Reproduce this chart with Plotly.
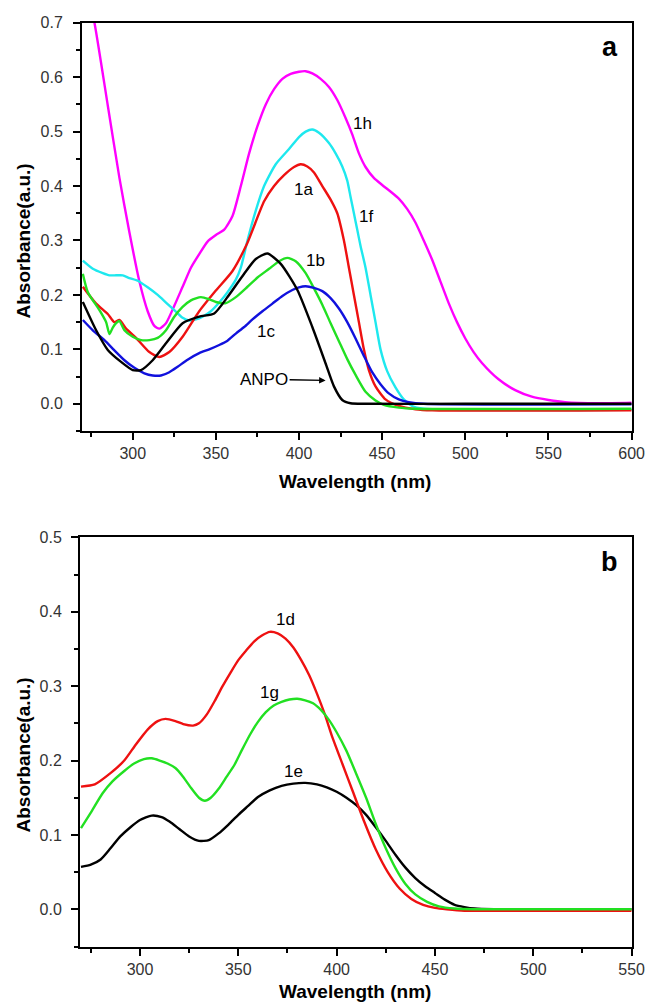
import plotly.graph_objects as go

# ---------------- Panel (a) data ----------------
anpo_x = [270, 278, 285, 293, 300, 305, 312, 320, 330, 340, 349, 357, 367, 374, 381, 389, 399, 408, 416, 421, 426, 431, 440, 500, 600]
anpo_y = [0.187, 0.135, 0.099, 0.077, 0.062, 0.062, 0.080, 0.111, 0.148, 0.160, 0.166, 0.196, 0.239, 0.266, 0.276, 0.257, 0.209, 0.141, 0.074, 0.032, 0.007, 0.001, 0.0, 0.0, 0.0]

a1_x = [270, 278, 285, 289, 292, 296, 302, 310, 316, 322, 330, 340, 350, 360, 369, 379, 385, 391, 397, 401, 405, 409, 414, 419, 423, 427, 430, 433, 436, 439, 442, 446, 452, 460, 470, 480, 600]
a1_y = [0.215, 0.184, 0.165, 0.150, 0.154, 0.138, 0.121, 0.095, 0.086, 0.095, 0.123, 0.170, 0.208, 0.244, 0.296, 0.372, 0.400, 0.420, 0.435, 0.440, 0.436, 0.425, 0.400, 0.375, 0.350, 0.300, 0.250, 0.200, 0.150, 0.100, 0.062, 0.032, 0.008, -0.004, -0.010, -0.012, -0.012]

b1_x = [270, 273, 280, 284, 286, 288, 290, 292, 295, 300, 305, 310, 315, 320, 325, 330, 335, 341, 346, 350, 356, 362, 369, 375, 382, 388, 393, 398, 404, 409, 414, 419, 424, 429, 434, 440, 446, 451, 460, 470, 600]
b1_y = [0.239, 0.205, 0.172, 0.150, 0.128, 0.140, 0.148, 0.152, 0.135, 0.123, 0.117, 0.117, 0.121, 0.135, 0.160, 0.178, 0.190, 0.196, 0.192, 0.187, 0.185, 0.196, 0.215, 0.232, 0.248, 0.262, 0.268, 0.262, 0.240, 0.212, 0.182, 0.148, 0.115, 0.082, 0.053, 0.022, 0.006, -0.002, -0.007, -0.009, -0.009]

c1_x = [270, 276, 283, 289, 295, 301, 307, 312, 317, 322, 327, 333, 340, 346, 352, 357, 362, 367, 372, 378, 384, 390, 396, 400, 404, 409, 414, 419, 424, 429, 434, 439, 444, 449, 454, 460, 466, 475, 600]
c1_y = [0.154, 0.135, 0.117, 0.098, 0.080, 0.066, 0.056, 0.052, 0.052, 0.058, 0.068, 0.081, 0.093, 0.100, 0.108, 0.116, 0.129, 0.141, 0.155, 0.170, 0.184, 0.198, 0.209, 0.214, 0.216, 0.213, 0.207, 0.194, 0.175, 0.150, 0.120, 0.088, 0.058, 0.036, 0.019, 0.008, 0.003, 0.000, -0.001]

f1_x = [270, 276, 282, 286, 290, 294, 298, 303, 309, 315, 320, 325, 330, 334, 338, 342, 347, 352, 357, 362, 365, 369, 374, 379, 386, 394, 400, 404, 408, 412, 418, 422, 426, 429, 431, 433, 435, 437, 440, 443, 446, 449, 453, 458, 463, 468, 475, 490, 600]
f1_y = [0.263, 0.248, 0.240, 0.236, 0.236, 0.236, 0.231, 0.226, 0.214, 0.200, 0.186, 0.172, 0.158, 0.153, 0.155, 0.160, 0.170, 0.186, 0.205, 0.228, 0.250, 0.300, 0.355, 0.400, 0.440, 0.468, 0.490, 0.500, 0.504, 0.498, 0.479, 0.460, 0.436, 0.410, 0.380, 0.350, 0.320, 0.290, 0.250, 0.200, 0.150, 0.100, 0.060, 0.030, 0.008, -0.004, -0.009, -0.011, -0.011]

h1_x = [270, 277, 285, 292, 298, 304, 309, 313, 316, 320, 325, 330, 335, 340, 345, 350, 355, 360, 365, 370, 375, 380, 385, 390, 395, 400, 404, 408, 413, 418, 423, 428, 432, 436, 440, 445, 450, 455, 460, 465, 470, 475, 480, 485, 490, 495, 500, 505, 510, 520, 530, 540, 550, 560, 580, 600]
h1_y = [0.80, 0.70, 0.548, 0.415, 0.315, 0.225, 0.170, 0.143, 0.138, 0.148, 0.180, 0.215, 0.250, 0.275, 0.298, 0.310, 0.320, 0.345, 0.400, 0.460, 0.510, 0.550, 0.578, 0.597, 0.606, 0.610, 0.611, 0.607, 0.597, 0.582, 0.558, 0.525, 0.495, 0.460, 0.435, 0.415, 0.402, 0.390, 0.377, 0.358, 0.333, 0.300, 0.265, 0.225, 0.185, 0.150, 0.120, 0.095, 0.075, 0.045, 0.025, 0.013, 0.007, 0.003, 0.001, 0.002]

# ---------------- Panel (b) data ----------------
d1_x = [270, 277, 285, 292, 298, 304, 309, 313, 318, 322, 327, 330, 334, 338, 342, 346, 350, 354, 358, 362, 366, 370, 374, 378, 382, 386, 390, 394, 398, 403, 408, 414, 420, 426, 432, 438, 444, 450, 456, 465, 480, 550]
d1_y = [0.165, 0.168, 0.183, 0.200, 0.222, 0.242, 0.253, 0.256, 0.253, 0.249, 0.247, 0.250, 0.262, 0.280, 0.300, 0.318, 0.335, 0.348, 0.360, 0.368, 0.373, 0.371, 0.364, 0.352, 0.335, 0.315, 0.290, 0.262, 0.230, 0.195, 0.160, 0.118, 0.080, 0.050, 0.028, 0.014, 0.006, 0.002, 0.000, -0.002, -0.002, -0.002]

g1_x = [270, 275, 281, 286, 292, 297, 302, 306, 310, 314, 318, 322, 326, 330, 333, 336, 340, 344, 348, 352, 356, 360, 364, 368, 372, 376, 380, 384, 388, 392, 396, 400, 405, 410, 415, 420, 425, 430, 435, 440, 446, 452, 460, 470, 550]
g1_y = [0.109, 0.130, 0.156, 0.172, 0.186, 0.196, 0.202, 0.203, 0.200, 0.196, 0.190, 0.178, 0.163, 0.150, 0.146, 0.150, 0.162, 0.178, 0.194, 0.215, 0.235, 0.252, 0.265, 0.274, 0.279, 0.282, 0.283, 0.281, 0.277, 0.268, 0.255, 0.238, 0.213, 0.182, 0.150, 0.114, 0.082, 0.055, 0.034, 0.020, 0.010, 0.004, 0.001, 0.000, 0.000]

e1_x = [270, 275, 280, 285, 290, 295, 300, 306, 311, 315, 320, 325, 330, 335, 340, 345, 350, 355, 360, 366, 372, 378, 384, 390, 395, 400, 405, 410, 415, 420, 425, 430, 435, 440, 445, 450, 455, 460, 465, 470, 480, 550]
e1_y = [0.057, 0.060, 0.067, 0.082, 0.098, 0.110, 0.120, 0.126, 0.124, 0.118, 0.108, 0.098, 0.092, 0.093, 0.102, 0.114, 0.127, 0.139, 0.151, 0.160, 0.166, 0.169, 0.170, 0.168, 0.164, 0.158, 0.150, 0.140, 0.127, 0.110, 0.092, 0.073, 0.056, 0.042, 0.031, 0.022, 0.013, 0.006, 0.003, 0.001, 0.000, 0.000]

# Tick values / labels
xa_ticks = [300, 350, 400, 450, 500, 550, 600]
ya_ticks = [0.0, 0.1, 0.2, 0.3, 0.4, 0.5, 0.6, 0.7]
xb_ticks = [300, 350, 400, 450, 500, 550]
yb_ticks = [0.0, 0.1, 0.2, 0.3, 0.4, 0.5]

FONT = "Liberation Sans, Arial, sans-serif"
LW = 2.4

fig = go.Figure()

series_a = [
    (h1_x, h1_y, "#FF00FF", "1h"),
    (f1_x, f1_y, "#1EE8EE", "1f"),
    (a1_x, a1_y, "#EE1111", "1a"),
    (b1_x, b1_y, "#22E022", "1b"),
    (c1_x, c1_y, "#1111DD", "1c"),
    (anpo_x, anpo_y, "#000000", "ANPO"),
]
for xs, ys, col, nm in series_a:
    fig.add_trace(go.Scatter(x=xs, y=ys, mode="lines", name=nm,
                             line=dict(color=col, width=LW, shape="spline", smoothing=0.6),
                             xaxis="x", yaxis="y", showlegend=False))

series_b = [
    (e1_x, e1_y, "#000000", "1e"),
    (d1_x, d1_y, "#EE1111", "1d"),
    (g1_x, g1_y, "#22E022", "1g"),
]
for xs, ys, col, nm in series_b:
    fig.add_trace(go.Scatter(x=xs, y=ys, mode="lines", name=nm,
                             line=dict(color=col, width=LW, shape="spline", smoothing=0.6),
                             xaxis="x2", yaxis="y2", showlegend=False))

W, H = 645, 1006


def axis_common():
    return dict(showline=True, linewidth=2, linecolor="black", mirror=True,
                ticks="outside", ticklen=7, tickwidth=2, tickcolor="black",
                showgrid=False, zeroline=False, automargin=False,
                ticklabeloverflow="allow",
                tickfont=dict(family=FONT, size=16, color="#333333"),
                minor=dict(ticks="outside", ticklen=4, tickwidth=2, tickcolor="black", showgrid=False))


xa = axis_common()
xa.update(domain=[82 / W, 631.7 / W], range=[269.5, 600.05], tickvals=xa_ticks,
          ticktext=[str(v) for v in xa_ticks], anchor="y")
xa["minor"]["dtick"] = 25
xa["minor"]["tick0"] = 275
ya = axis_common()
ya.update(domain=[1 - 431 / H, 1 - 22.7 / H], range=[-0.05, 0.7001], tickvals=ya_ticks,
          ticktext=["%.1f" % v for v in ya_ticks], anchor="x", ticklabelstandoff=7)
ya["minor"]["dtick"] = 0.05
ya["minor"]["tick0"] = 0.05

xb = axis_common()
xb.update(domain=[80 / W, 631.7 / W], range=[269.5, 550.05], tickvals=xb_ticks,
          ticktext=[str(v) for v in xb_ticks], anchor="y2")
xb["minor"]["dtick"] = 25
xb["minor"]["tick0"] = 275
yb = axis_common()
yb.update(domain=[1 - 946.5 / H, 1 - 537.3 / H], range=[-0.05, 0.5001], tickvals=yb_ticks,
          ticktext=["%.1f" % v for v in yb_ticks], anchor="x2", ticklabelstandoff=6)
yb["minor"]["dtick"] = 0.05
yb["minor"]["tick0"] = 0.05

lab_font = dict(family=FONT, size=17, color="black")
title_font = dict(family=FONT, size=19, color="black")
C = dict(xanchor="center", yanchor="middle")


def pap(px, py):
    return dict(x=px / W, y=1 - py / H, xref="paper", yref="paper", **C)


annotations = [
    # curve labels panel a
    dict(x=438, y=0.515, xref="x", yref="y", text="1h", showarrow=False, font=lab_font, **C),
    dict(x=402.5, y=0.393, xref="x", yref="y", text="1a", showarrow=False, font=lab_font, **C),
    dict(x=440, y=0.344, xref="x", yref="y", text="1f", showarrow=False, font=lab_font, **C),
    dict(x=410, y=0.263, xref="x", yref="y", text="1b", showarrow=False, font=lab_font, **C),
    dict(x=380, y=0.132, xref="x", yref="y", text="1c", showarrow=False, font=lab_font, **C),
    dict(x=416, y=0.043, ax=379, ay=0.045, xref="x", yref="y", axref="x", ayref="y",
         text="ANPO", showarrow=True, arrowhead=2, arrowsize=1, arrowwidth=1.3,
         arrowcolor="black", font=lab_font),
    # curve labels panel b
    dict(x=374, y=0.389, xref="x2", yref="y2", text="1d", showarrow=False, font=lab_font, **C),
    dict(x=366, y=0.292, xref="x2", yref="y2", text="1g", showarrow=False, font=lab_font, **C),
    dict(x=378, y=0.185, xref="x2", yref="y2", text="1e", showarrow=False, font=lab_font, **C),
    # panel letters
    dict(text="<b>a</b>", showarrow=False, font=dict(family=FONT, size=27, color="black"), **pap(610, 46.5)),
    dict(text="<b>b</b>", showarrow=False, font=dict(family=FONT, size=27, color="black"), **pap(609, 562)),
    # axis titles
    dict(text="<b>Wavelength (nm)</b>", showarrow=False, font=title_font, **pap(355, 481)),
    dict(text="<b>Wavelength (nm)</b>", showarrow=False, font=title_font, **pap(355, 991)),
    dict(text="<b>Absorbance(a.u.)</b>", showarrow=False, textangle=-90, font=title_font, **pap(22.5, 241)),
    dict(text="<b>Absorbance(a.u.)</b>", showarrow=False, textangle=-90, font=title_font, **pap(22.5, 755)),
]

fig.update_layout(
    width=W, height=H,
    margin=dict(l=0, r=0, t=0, b=0, autoexpand=False),
    paper_bgcolor="white", plot_bgcolor="white",
    xaxis=xa, yaxis=ya, xaxis2=xb, yaxis2=yb,
    annotations=annotations,
    showlegend=False,
)

fig.write_html(
    "out.html",
    config={"displayModeBar": False},
    post_script="document.body.style.margin='0px';document.body.style.overflow='hidden';",
)
